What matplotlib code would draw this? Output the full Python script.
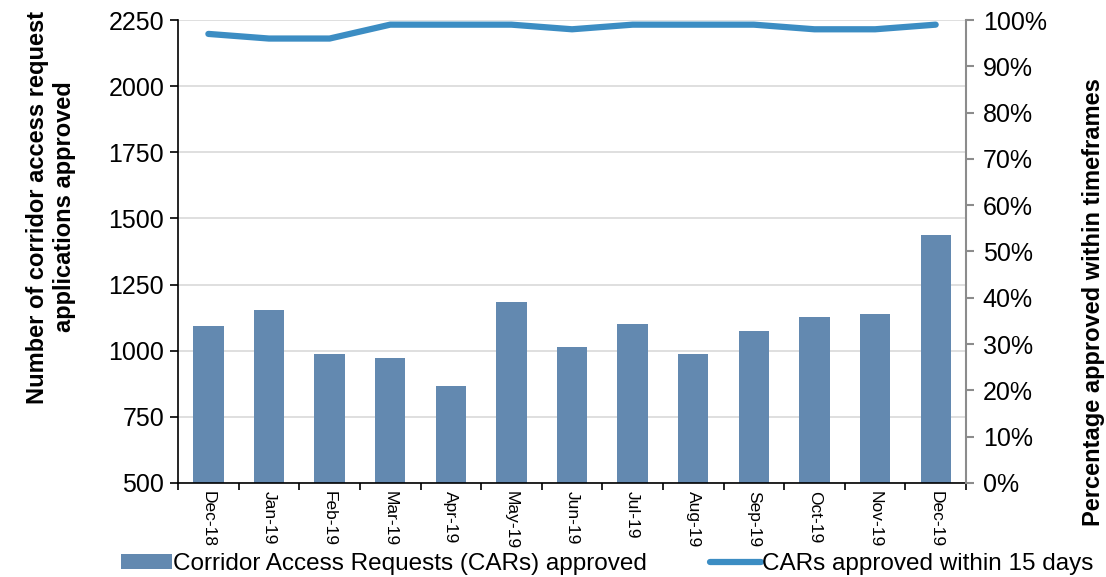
import numpy as np
import matplotlib.pyplot as plt
from matplotlib.ticker import FixedLocator, PercentFormatter

plt.rcParams['font.family'] = ['Liberation Sans', 'DejaVu Sans']

months = ["Dec-18", "Jan-19", "Feb-19", "Mar-19", "Apr-19", "May-19", "Jun-19",
          "Jul-19", "Aug-19", "Sep-19", "Oct-19", "Nov-19", "Dec-19"]
cars_approved = [1093, 1154, 986, 972, 867, 1184, 1013, 1100, 988, 1073, 1127, 1139, 1436]
pct_15_days = [97, 96, 96, 99, 99, 99, 98, 99, 99, 99, 98, 98, 99]

bar_color = "#6389B0"
line_color = "#3C8DC3"

fig = plt.figure(figsize=(11.06, 5.77), dpi=100)
ax = fig.add_axes([0.161, 0.163, 0.7124, 0.8023])
ax2 = ax.twinx()

x = np.arange(len(months))
bars = ax.bar(x, cars_approved, width=0.5, color=bar_color, zorder=2,
              label="Corridor Access Requests (CARs) approved")
line, = ax2.plot(x, pct_15_days, color=line_color, lw=4.5, solid_capstyle="round",
                 label="CARs approved within 15 days")

# left axis
ax.set_ylim(500, 2250)
ax.set_yticks(range(500, 2251, 250))
ax.set_xlim(-0.5, len(months) - 0.5)
ax.grid(axis="y", color="#D9D9D9", lw=1.2, zorder=0)
ax.set_axisbelow(True)
ax.tick_params(axis="y", labelsize=18, length=6, width=1.2, direction="out", pad=4)
ax.set_ylabel("Number of corridor access request\napplications approved",
              fontsize=17, fontweight="bold")
ax.yaxis.set_label_coords(-0.13, 0.596)

# x ticks at boundaries, labels centred
ax.xaxis.set_major_locator(FixedLocator(np.arange(-0.5, len(months), 1.0)))
ax.xaxis.set_major_formatter(plt.NullFormatter())
ax.xaxis.set_minor_locator(FixedLocator(x))
ax.set_xticklabels(months, minor=True, rotation=270, fontsize=12.5)
ax.tick_params(axis="x", which="major", length=5, width=1.2, direction="out")
ax.tick_params(axis="x", which="minor", length=0, pad=6)

ax.spines["top"].set_visible(False)
ax2.spines["top"].set_visible(False)
ax.spines["left"].set_linewidth(1.2)
ax.spines["bottom"].set_linewidth(1.2)
ax.spines["right"].set_visible(False)
ax2.spines["left"].set_visible(False)
ax2.spines["bottom"].set_visible(False)
ax2.spines["right"].set_color("#8C8C8C")
ax2.spines["right"].set_linewidth(1.5)

# right axis
ax2.set_ylim(0, 100)
ax2.set_yticks(range(0, 101, 10))
ax2.yaxis.set_major_formatter(PercentFormatter(decimals=0))
ax2.tick_params(axis="y", labelsize=18, length=6, width=1.5, color="#8C8C8C", pad=6)
ax2.set_ylabel("Percentage approved within timeframes", fontsize=17,
               fontweight="bold")
ax2.yaxis.set_label_coords(1.147, 0.39)

fig.legend(handles=[bars, line], loc="lower center", bbox_to_anchor=(0.549, -0.035),
           ncol=2, frameon=False, fontsize=17.5, handlelength=2.1, handleheight=0.55,
           columnspacing=2.6, handletextpad=0.05)

fig.savefig("out.png", dpi=100)
